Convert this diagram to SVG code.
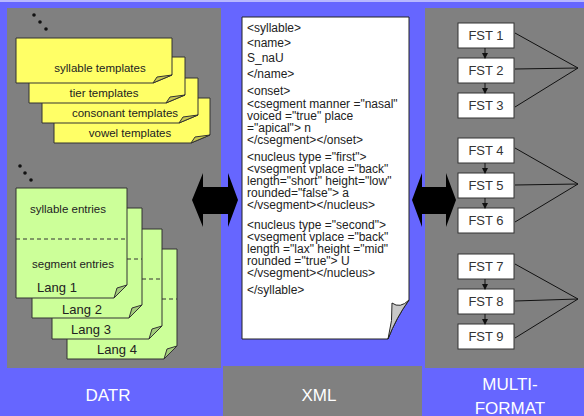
<svg xmlns="http://www.w3.org/2000/svg" width="584" height="416" viewBox="0 0 584 416">
  <defs>
    <style>
      .panel { fill: #808080; }
      .yellow { fill: #ffff66; stroke: #333333; stroke-width: 1; }
      .yfold { fill: #c8c850; stroke: #333333; stroke-width: 1; }
      .green { fill: #ccff99; stroke: #333333; stroke-width: 1; }
      .gfold { fill: #a3cc7a; stroke: #333333; stroke-width: 1; }
      .dash { stroke: #333333; stroke-width: 1; stroke-dasharray: 4 3; fill: none; }
      .note { font-family: "Liberation Sans", Arial, sans-serif; font-size: 11.5px; fill: #222222; text-anchor: middle; }
      .lang { font-family: "Liberation Sans", Arial, sans-serif; font-size: 13px; fill: #222222; text-anchor: middle; }
      .xml { font-family: "Liberation Sans", Arial, sans-serif; font-size: 12px; fill: #222222; }
      .fst rect { fill: #ffffff; stroke: #333333; stroke-width: 1; }
      .fst text { font-family: "Liberation Sans", Arial, sans-serif; font-size: 13px; fill: #333333; text-anchor: middle; }
      .link { stroke: #111111; stroke-width: 1; fill: none; }
      .step { stroke: #111111; stroke-width: 1; fill: none; marker-end: url(#tip); }
      .title { font-family: "Liberation Sans", Arial, sans-serif; font-size: 17px; fill: #ffffff; text-anchor: middle; }
      .dot { fill: #111111; }
    </style>
    <marker id="tip" viewBox="0 0 6 6" refX="5" refY="3" markerWidth="6" markerHeight="6" markerUnits="userSpaceOnUse" orient="auto">
      <path d="M0,0 L6,3 L0,6 Z" fill="#111111"/>
    </marker>
  </defs>

  <!-- backdrop and column panels -->
  <rect x="0" y="0" width="584" height="416" fill="#6666ff"/>
  <rect x="0" y="0" width="584" height="2" fill="#b8b8ff"/>
  <rect class="panel" x="7" y="8" width="214" height="360"/>
  <rect class="panel" x="425" y="8" width="159" height="360"/>
  <rect class="panel" x="223" y="366" width="199" height="50"/>

  <!-- column titles -->
  <text class="title" x="108" y="401">DATR</text>
  <text class="title" x="319" y="401">XML</text>
  <text class="title" x="510" y="390">MULTI-</text>
  <text class="title" x="510" y="414">FORMAT</text>

  <!-- DATR: template notes -->
  <g id="dots-templates">
    <circle class="dot" cx="34" cy="15" r="1.8"/>
    <circle class="dot" cx="40" cy="22" r="1.8"/>
    <circle class="dot" cx="46" cy="29" r="1.8"/>
  </g>
  <g id="vowel-templates">
    <path class="yellow" d="M54,98 H210 V135 L191,143 H54 Z"/>
    <path class="yfold" d="M191,143 L195,137 L210,135 Z"/>
    <text class="note" x="130" y="137">vowel templates</text>
  </g>
  <g id="consonant-templates">
    <path class="yellow" d="M42,78 H198 V115 L179,123 H42 Z"/>
    <path class="yfold" d="M179,123 L183,117 L198,115 Z"/>
    <text class="note" x="125" y="117">consonant templates</text>
  </g>
  <g id="tier-templates">
    <path class="yellow" d="M29,57 H185 V95 L166,103 H29 Z"/>
    <path class="yfold" d="M166,103 L170,97 L185,95 Z"/>
    <text class="note" x="104" y="97">tier templates</text>
  </g>
  <g id="syllable-templates">
    <path class="yellow" d="M16,38 H172 V75 L153,83 H16 Z"/>
    <path class="yfold" d="M153,83 L157,77 L172,75 Z"/>
    <text class="note" x="100" y="72">syllable templates</text>
  </g>

  <!-- DATR: language lexicons -->
  <g id="dots-lexicons">
    <circle class="dot" cx="20" cy="166" r="1.8"/>
    <circle class="dot" cx="25" cy="173" r="1.8"/>
    <circle class="dot" cx="31" cy="180" r="1.8"/>
  </g>
  <g id="lang-4">
    <path class="green" d="M67,249 H177 V346 L164,359 H67 Z"/>
    <path class="gfold" d="M164,359 L167,349 L177,346 Z"/>
    <line class="dash" x1="162" y1="299" x2="177" y2="299"/>
    <text class="lang" x="117" y="354">Lang 4</text>
  </g>
  <g id="lang-3">
    <path class="green" d="M52,229 H162 V326 L149,339 H52 Z"/>
    <path class="gfold" d="M149,339 L152,329 L162,326 Z"/>
    <line class="dash" x1="142" y1="279" x2="162" y2="279"/>
    <text class="lang" x="91" y="334">Lang 3</text>
  </g>
  <g id="lang-2">
    <path class="green" d="M32,208 H142 V305 L129,318 H32 Z"/>
    <path class="gfold" d="M129,318 L132,308 L142,305 Z"/>
    <line class="dash" x1="127" y1="259" x2="142" y2="259"/>
    <text class="lang" x="82" y="314">Lang 2</text>
  </g>
  <g id="lang-1">
    <path class="green" d="M16,188 H127 V285 L114,298 H16 Z"/>
    <path class="gfold" d="M114,298 L117,288 L127,285 Z"/>
    <line class="dash" x1="16" y1="239" x2="127" y2="239"/>
    <text class="note" x="68" y="213">syllable entries</text>
    <text class="note" x="73" y="268">segment entries</text>
    <text class="lang" x="57" y="292">Lang 1</text>
  </g>

  <!-- XML document -->
  <g id="xml-document">
    <path d="M242,17 H409 V300 Q396,318 388,339 H242 Z" fill="#ffffff" stroke="#222222" stroke-width="1"/>
    <path d="M388,339 Q393,320 392,303 Q400,309 409,300 Q396,318 388,339 Z" fill="#c8c8c8" stroke="#222222" stroke-width="1"/>
    <g class="xml">
      <text x="247" y="32">&lt;syllable&gt;</text>
      <text x="247" y="47">&lt;name&gt;</text>
      <text x="247" y="62">S_naU</text>
      <text x="247" y="78">&lt;/name&gt;</text>
      <text x="247" y="95">&lt;onset&gt;</text>
      <text x="247" y="108">&lt;csegment manner ="nasal"</text>
      <text x="247" y="120">voiced ="true" place</text>
      <text x="247" y="132">="apical"&gt; n</text>
      <text x="247" y="144">&lt;/csegment&gt;&lt;/onset&gt;</text>
      <text x="247" y="161">&lt;nucleus type ="first"&gt;</text>
      <text x="247" y="173">&lt;vsegment vplace ="back"</text>
      <text x="247" y="185">length="short" height="low"</text>
      <text x="247" y="197">rounded="false"&gt; a</text>
      <text x="247" y="209">&lt;/vsegment&gt;&lt;/nucleus&gt;</text>
      <text x="247" y="229">&lt;nucleus type ="second"&gt;</text>
      <text x="247" y="241">&lt;vsegment vplace ="back"</text>
      <text x="247" y="253">length ="lax" height ="mid"</text>
      <text x="247" y="265">rounded ="true"&gt; U</text>
      <text x="247" y="277">&lt;/vsegment&gt;&lt;/nucleus&gt;</text>
      <text x="247" y="294">&lt;/syllable&gt;</text>
    </g>
  </g>

  <!-- FST cascade -->
  <g id="fst-1" class="fst"><rect x="458" y="23" width="56" height="25"/><text x="486" y="40">FST 1</text></g>
  <g id="fst-2" class="fst"><rect x="458" y="58" width="56" height="25"/><text x="486" y="75">FST 2</text></g>
  <g id="fst-3" class="fst"><rect x="458" y="93" width="56" height="25"/><text x="486" y="110">FST 3</text></g>
  <g id="fst-4" class="fst"><rect x="458" y="138" width="56" height="25"/><text x="486" y="155">FST 4</text></g>
  <g id="fst-5" class="fst"><rect x="458" y="173" width="56" height="25"/><text x="486" y="190">FST 5</text></g>
  <g id="fst-6" class="fst"><rect x="458" y="208" width="56" height="25"/><text x="486" y="225">FST 6</text></g>
  <g id="fst-7" class="fst"><rect x="458" y="254" width="56" height="25"/><text x="486" y="271">FST 7</text></g>
  <g id="fst-8" class="fst"><rect x="458" y="289" width="56" height="25"/><text x="486" y="306">FST 8</text></g>
  <g id="fst-9" class="fst"><rect x="458" y="324" width="56" height="25"/><text x="486" y="341">FST 9</text></g>

  <!-- connectors -->
  <g id="connectors">
    <path d="M192,200 L203,173 L203,187 L228,187 L228,173 L238,200 L228,227 L228,214 L203,214 L203,227 Z" fill="#000000"/>
    <path d="M412,200 L422,173 L422,187 L446,187 L446,173 L456,200 L446,227 L446,214 L422,214 L422,227 Z" fill="#000000"/>

    <line class="step" x1="485" y1="48" x2="485" y2="58"/>
    <line class="step" x1="485" y1="83" x2="485" y2="93"/>
    <line class="step" x1="485" y1="163" x2="485" y2="173"/>
    <line class="step" x1="485" y1="198" x2="485" y2="208"/>
    <line class="step" x1="485" y1="279" x2="485" y2="289"/>
    <line class="step" x1="485" y1="314" x2="485" y2="324"/>

    <path class="link" d="M515,33 L578,68 M515,69 L578,68 M515,107 L578,68"/>
    <path class="link" d="M515,148 L578,184 M515,185 L578,184 M515,222 L578,184"/>
    <path class="link" d="M515,264 L578,299 M515,301 L578,299 M515,338 L578,299"/>
  </g>
</svg>
